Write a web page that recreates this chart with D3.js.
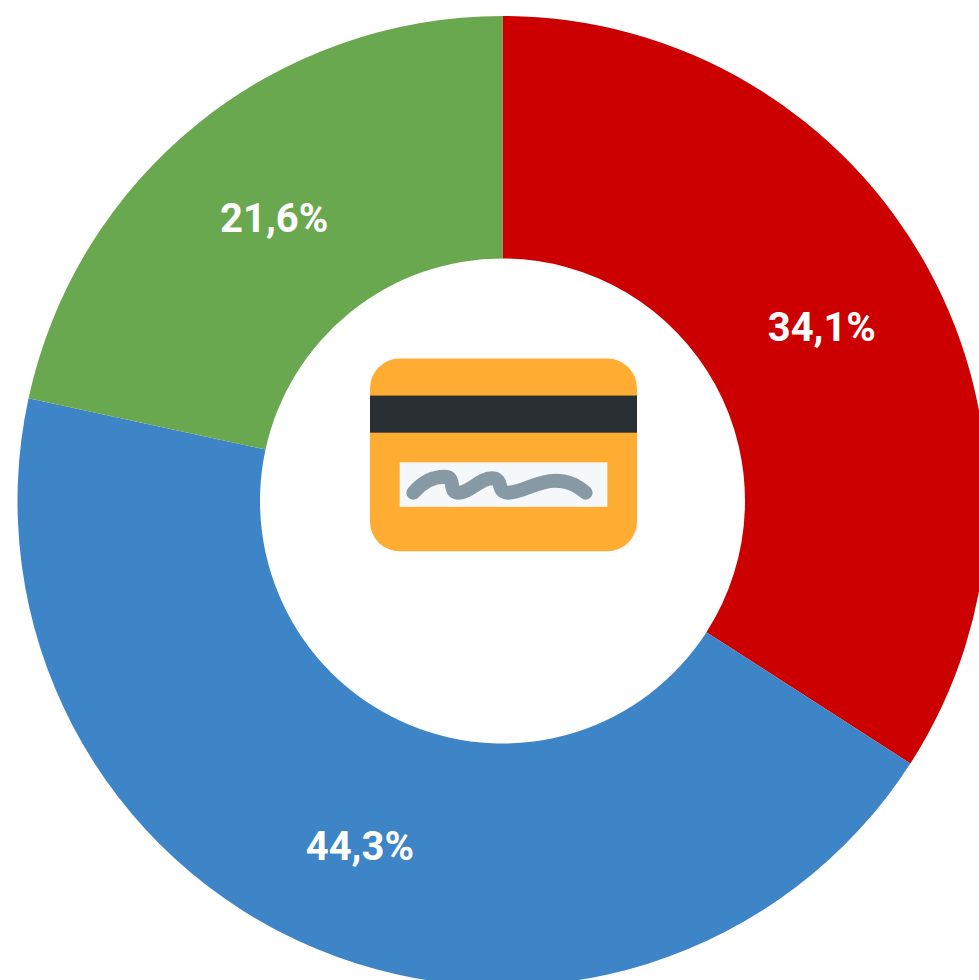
<!DOCTYPE html>
<html>
<head>
<meta charset="utf-8">
<script src="https://cdn.jsdelivr.net/npm/d3@7"></script>
<style>
html, body { margin: 0; padding: 0; background: #fff; overflow: hidden; }
svg { display: block; }
</style>
</head>
<body>
<script>
var labels = ["34,1%", "44,3%", "21,6%"];
var values = [34.1, 44.3, 21.6];
var colors = ["#cc0000", "#3d85c6", "#6aa84f"];

var width = 979;
var height = 980;
var cx = 502.5;
var cy = 501;
var outer = 485;
var inner = 242.5;

var svg = d3.select("body").append("svg")
	.attr("width", width)
	.attr("height", height);

var pie = d3.pie().sort(null);
var arc = d3.arc().innerRadius(inner).outerRadius(outer);

var g = svg.append("g").attr("transform", "translate(" + cx + "," + cy + ")");

var slices = pie(values);

g.selectAll("path")
	.data(slices)
	.enter().append("path")
	.attr("d", arc)
	.attr("fill", function(d, i) { return colors[i]; });

// the blue label sits a little further out than its centroid
function label_pos(d, i) {
	var c = arc.centroid(d);
	if (i == 1) return [c[0] * 1.025, c[1] * 1.025];
	return c;
}

g.selectAll("text")
	.data(slices)
	.enter().append("text")
	.attr("transform", function(d, i) { return "translate(" + label_pos(d, i) + ")"; })
	.attr("text-anchor", "middle")
	.attr("dy", "0.36em")
	.attr("font-family", "Roboto")
	.attr("font-weight", 700)
	.attr("font-size", 40)
	.attr("fill", "#fff")
	.text(function(d, i) { return labels[i]; });

// credit card icon in the hole
var card = svg.append("g").attr("transform", "translate(370,358.5) scale(7.417)");
card.append("rect").attr("width", 36).attr("height", 26).attr("rx", 4).attr("fill", "#ffac33");
card.append("rect").attr("y", 5).attr("width", 36).attr("height", 5).attr("fill", "#292f33");
card.append("rect").attr("x", 4).attr("y", 14).attr("width", 28).attr("height", 6).attr("fill", "#f5f8fa");

svg.append("path")
	.attr("transform", "translate(360,350) scale(0.3333)")
	.attr("d", "M160 428C190 392 225 380 255 380C290 380 262 428 295 428C330 428 360 385 395 385C435 385 405 428 445 428C490 428 530 392 585 392C630 392 655 410 677 428")
	.attr("fill", "none")
	.attr("stroke", "#8899a6")
	.attr("stroke-width", 42)
	.attr("stroke-linecap", "round")
	.attr("stroke-linejoin", "round");
</script>
</body>
</html>
